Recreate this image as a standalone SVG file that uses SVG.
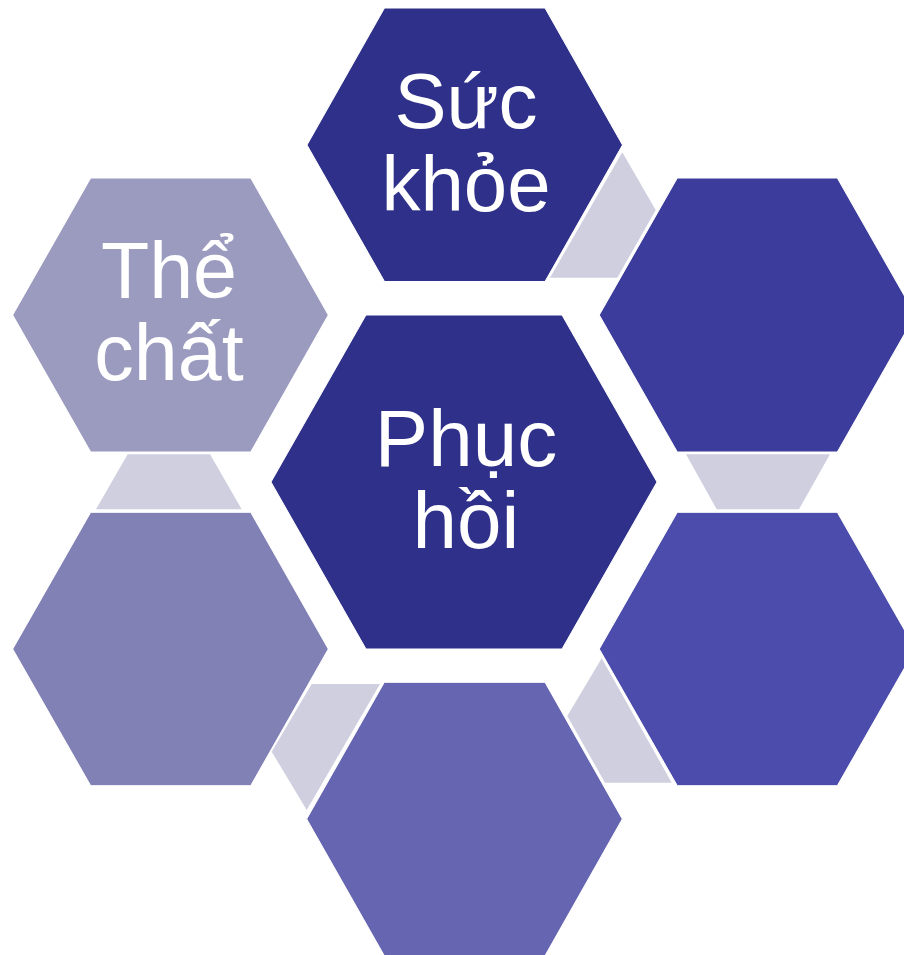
<svg xmlns="http://www.w3.org/2000/svg" width="904" height="955" viewBox="0 0 904 955">
<style>
.conn{fill:#CFCFDF;stroke:none}
.hex{stroke:#FFFFFF;stroke-width:1}
.lbl{font-family:"Liberation Sans",Arial,sans-serif;fill:#FFFFFF;text-anchor:middle}
</style>
<rect width="904" height="955" fill="#FFFFFF"/>
<g id="connectors">
<polygon class="conn" points="550,277.7 622.3,152.3 655.7,210 617.3,277.7"/>
<polygon class="conn" points="686,454.3 830,454.3 799,509.3 716.7,509.3"/>
<polygon class="conn" points="601.7,658.3 671.7,782.7 605,782.7 567.3,716"/>
<polygon class="conn" points="311.7,684 380,684 306.7,810 271.7,751.7"/>
<polygon class="conn" points="127.7,454.3 210,454.3 241.7,509.3 96,509.3"/>
</g>
<g id="node-center">
<polygon class="hex" fill="#2E3089" points="271,482 366,315 562,315 657,482 562,649 366,649"/>
<text class="lbl" font-size="80" x="466" y="466">Phục</text>
<text class="lbl" font-size="80" x="466" y="548">hồi</text>
</g>
<g id="node-top">
<polygon class="hex" fill="#2E3089" points="307,145 384.5,8 545,8 622.5,145 545,281.5 384.5,281.5"/>
<text class="lbl" font-size="78" x="466" y="128">Sức</text>
<text class="lbl" font-size="78" x="466" y="211">khỏe</text>
</g>
<g id="node-top-right">
<polygon class="hex" fill="#3C3C9C" points="599.3,315 677.3,178 837.3,178 915.3,315 837.3,452 677.3,452"/>
</g>
<g id="node-bottom-right">
<polygon class="hex" fill="#4B4CAC" points="599.3,649 677.3,512.3 837.3,512.3 915.3,649 837.3,785.7 677.3,785.7"/>
</g>
<g id="node-bottom">
<polygon class="hex" fill="#6665B1" points="306.7,819 384.3,682.3 545,682.3 622.3,819 545,955.7 384.3,955.7"/>
</g>
<g id="node-bottom-left">
<polygon class="hex" fill="#8181B6" points="12.7,649 90.7,512.3 250.7,512.3 328.3,649 250.7,785.7 90.7,785.7"/>
</g>
<g id="node-top-left">
<polygon class="hex" fill="#9B9BBF" points="12.7,315 90.7,178 250.7,178 328.3,315 250.7,452 90.7,452"/>
<text class="lbl" font-size="79" x="169" y="298">Thể</text>
<text class="lbl" font-size="79" x="169" y="380">chất</text>
</g>
</svg>
